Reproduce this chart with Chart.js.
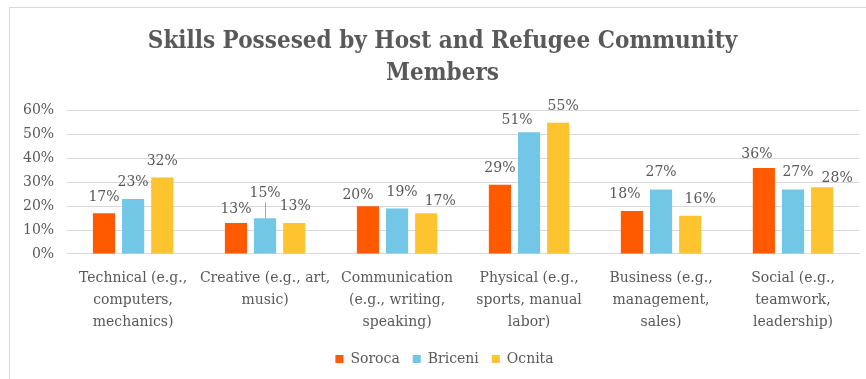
<!DOCTYPE html>
<html>
<head>
<meta charset="utf-8">
<script src="https://cdn.jsdelivr.net/npm/chart.js@4.4.1/dist/chart.umd.min.js"></script>
<style>
  html, body { margin: 0; padding: 0; background: #fff; }
  #frame {
    position: absolute; left: 9px; top: 7px;
    width: 857px; height: 372px;
    border-left: 1px solid #d9d9d9; border-top: 1px solid #d9d9d9;
  }
  #wrap { position: absolute; left: 0; top: 0; width: 856px; height: 371px; }
</style>
</head>
<body>
<div id="frame"><div id="wrap"><canvas id="skillsChart"></canvas></div></div>
<script>
const CATEGORIES = [
  ["Technical (e.g.,", "computers,", "mechanics)"],
  ["Creative (e.g., art,", "music)"],
  ["Communication", "(e.g., writing,", "speaking)"],
  ["Physical (e.g.,", "sports, manual", "labor)"],
  ["Business (e.g.,", "management,", "sales)"],
  ["Social (e.g.,", "teamwork,", "leadership)"]
];

const SOROCA  = [17, 13, 20, 29, 18, 36];
const BRICENI = [23, 15, 19, 51, 27, 27];
const OCNITA  = [32, 13, 17, 55, 16, 28];

const Y_TICKS = [0, 10, 20, 30, 40, 50, 60];

const FONT = "'DejaVu Serif', serif";
const TITLE_FONT = "'DejaVu Serif Condensed', 'DejaVu Serif', serif";
const TEXT = "#595959";

// label nudges [dx, dy] so neighbouring labels don't collide
const NUDGE = [
  [[0, 0], [0, 2], [-10, 5], [0, 0], [-7, -1], [-7, 2]],
  [[0, -1], [0, -9], [5, 0], [-12, 4], [0, -1], [5, -1]],
  [[0, 0], [1, -1], [14, 4], [5, 0], [10, 0], [15, 7]]
];

const valueLabels = {
  id: "valueLabels",
  afterDatasetsDraw(chart) {
    const ctx = chart.ctx;
    ctx.save();
    ctx.font = "14px " + FONT;
    ctx.fillStyle = TEXT;
    ctx.textAlign = "center";
    ctx.textBaseline = "middle";
    chart.data.datasets.forEach((ds, di) => {
      chart.getDatasetMeta(di).data.forEach((bar, i) => {
        const [dx, dy] = NUDGE[di][i];
        const x = bar.x + dx;
        const y = bar.y - 16 + dy;
        ctx.fillText(ds.data[i] + "%", x, y);
        if (dy < -5) {
          // leader line back to the bar top
          ctx.strokeStyle = "#a6a6a6";
          ctx.lineWidth = 1;
          ctx.beginPath();
          ctx.moveTo(Math.round(bar.x) + 0.5, y + 9);
          ctx.lineTo(Math.round(bar.x) + 0.5, bar.y);
          ctx.stroke();
        }
      });
    });
    ctx.restore();
  }
};

// title and legend sit a little right of the canvas centre
const centreShift = {
  id: "centreShift",
  afterLayout(chart) {
    if (chart.titleBlock) {
      chart.titleBlock.left += 8;
      chart.titleBlock.right += 8;
    }
    if (chart.legend) {
      chart.legend.left += 10;
      chart.legend.right += 10;
    }
  }
};

new Chart(document.getElementById("skillsChart"), {
  type: "bar",
  data: {
    labels: CATEGORIES,
    datasets: [
      { label: "Soroca",  data: SOROCA,  backgroundColor: "#ff5a00" },
      { label: "Briceni", data: BRICENI, backgroundColor: "#72c6e6" },
      { label: "Ocnita",  data: OCNITA,  backgroundColor: "#fdc42f" }
    ]
  },
  options: {
    responsive: true,
    maintainAspectRatio: false,
    animation: false,
    categoryPercentage: 0.662,
    barPercentage: 0.76,
    layout: { padding: { left: 0, right: 7, top: 0, bottom: 3 } },
    plugins: {
      title: {
        display: true,
        text: ["Skills Possesed by Host and Refugee Community", "Members"],
        color: TEXT,
        font: { family: TITLE_FONT, size: 24, weight: "bold", lineHeight: 1.33 },
        padding: { top: 18, bottom: 21 }
      },
      legend: {
        position: "bottom",
        labels: {
          color: TEXT,
          font: { family: FONT, size: 14 },
          boxWidth: 8,
          boxHeight: 8,
          padding: 13
        }
      },
      tooltip: { enabled: false }
    },
    scales: {
      x: {
        grid: { display: false },
        border: { color: "#d9d9d9" },
        ticks: {
          color: TEXT,
          font: { family: FONT, size: 14, lineHeight: 1.55 },
          padding: 6,
          maxRotation: 0,
          autoSkip: false
        }
      },
      y: {
        min: 0,
        max: 60,
        afterBuildTicks(axis) { axis.ticks = Y_TICKS.map(v => ({ value: v })); },
        grid: { color: "#d9d9d9", drawTicks: false },
        border: { display: false },
        ticks: {
          color: TEXT,
          font: { family: FONT, size: 14 },
          padding: 13,
          callback: v => v + "%"
        }
      }
    }
  },
  plugins: [valueLabels, centreShift]
});
</script>
</body>
</html>
